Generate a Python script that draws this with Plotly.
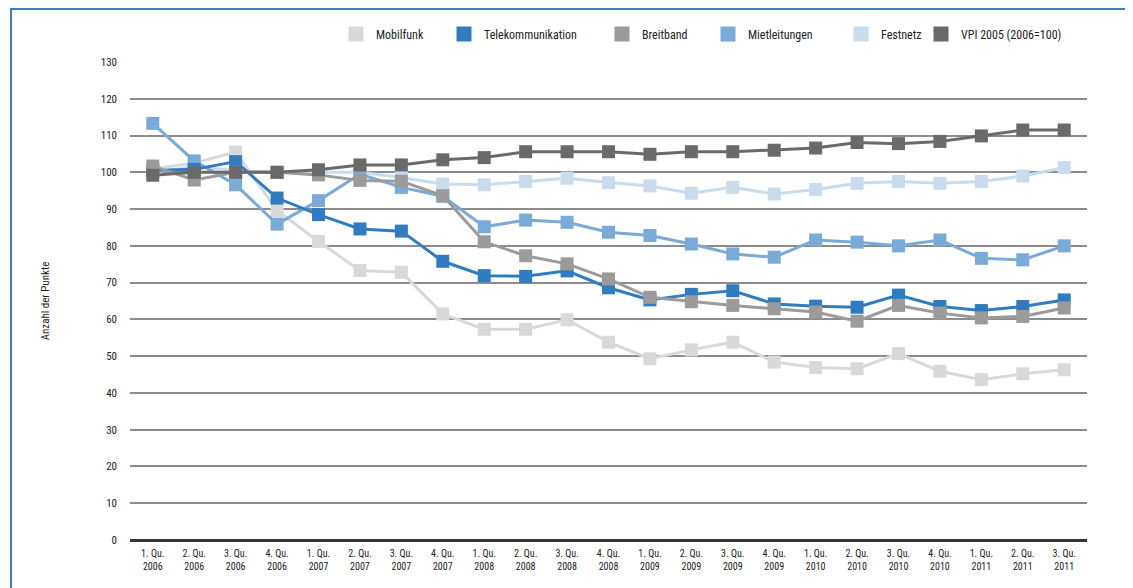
import plotly.graph_objects as go

quarters = ["1. Qu.", "2. Qu.", "3. Qu.", "4. Qu."]
years = ["2006", "2007", "2008", "2009", "2010", "2011"]
categories = [f"{q}<br>{y}" for y in years for q in quarters][:23]

mobilfunk = [101, 102.5, 105.5, 89.6, 81.2, 73.3, 72.8, 61.5, 57.3, 57.3, 59.9, 53.8,
             49.3, 51.7, 53.8, 48.4, 46.9, 46.6, 50.7, 45.9, 43.6, 45.2, 46.3]
telekom = [100.5, 100.8, 102.9, 93, 88.5, 84.6, 84, 75.8, 71.9, 71.7, 73.2, 68.6,
           65.3, 66.8, 67.8, 64.2, 63.6, 63.3, 66.6, 63.5, 62.4, 63.5, 65.3]
breitband = [101.7, 97.9, 100, 100, 99.3, 97.8, 97.6, 93.6, 81.1, 77.3, 75.1, 71,
             66, 64.8, 63.8, 62.9, 62, 59.5, 63.8, 61.7, 60.4, 60.8, 63.1]
mietleitungen = [113.3, 103.1, 96.6, 85.9, 92.3, 99.5, 95.9, 93.5, 85.2, 87, 86.4, 83.7,
                 82.8, 80.5, 77.8, 76.9, 81.6, 81, 80, 81.6, 76.6, 76.2, 80]
festnetz = [100, 101.5, 100.5, 100, 100, 100, 98.6, 96.8, 96.6, 97.5, 98.4, 97.2,
            96.3, 94.3, 95.9, 94.1, 95.3, 97, 97.5, 97, 97.5, 99, 101.3]
vpi = [99.2, 100, 100, 100, 100.7, 102, 102, 103.4, 104, 105.6, 105.6, 105.6,
       104.9, 105.6, 105.6, 106, 106.6, 108.1, 107.8, 108.4, 109.9, 111.5, 111.5]

y_ticks = list(range(0, 131, 10))

series = [
    ("Mobilfunk", mobilfunk, "#d9d9d9"),
    ("Festnetz", festnetz, "#c9dcee"),
    ("Mietleitungen", mietleitungen, "#7aaad8"),
    ("Telekommunikation", telekom, "#2f7dc0"),
    ("Breitband", breitband, "#9b9b9b"),
    ("VPI 2005 (2006=100)", vpi, "#6a6a6a"),
]
legend_order = ["Mobilfunk", "Telekommunikation", "Breitband", "Mietleitungen",
                "Festnetz", "VPI 2005 (2006=100)"]
colors = {n: c for n, _, c in series}

FONT = "Liberation Sans Narrow, Arial Narrow, Roboto Condensed, Roboto, sans-serif"

# page offset (body margin) compensation
OFF = 8
px0, px1, py0, py1 = 130, 1087, 62, 540  # desired plot area in page pixels
def px(x):
    return (x - px0) / (px1 - px0)
def py(y):
    return (py1 - y) / (py1 - py0)

fig = go.Figure()
for name, vals, col in series:
    fig.add_trace(go.Scatter(
        x=categories, y=vals, mode="lines+markers", name=name, showlegend=False,
        line=dict(color=col, width=3),
        marker=dict(symbol="square", size=13, color=col),
        cliponaxis=False,
    ))

legend_centers = [355, 463, 621, 727, 860, 940]
legend_layout = {}
for i, name in enumerate(legend_order):
    key = "legend" if i == 0 else f"legend{i + 1}"
    fig.add_trace(go.Scatter(
        x=[None], y=[None], mode="markers", name=name, legend=key,
        marker=dict(symbol="square", size=15, color=colors[name]),
    ))
    legend_layout[key] = dict(
        orientation="h", x=px(legend_centers[i] - 19), xanchor="left",
        y=py(34), yanchor="middle", itemwidth=30,
        font=dict(family=FONT, size=12, color="#222"),
        bgcolor="rgba(0,0,0,0)",
    )

fig.add_shape(type="path", xref="paper", yref="paper",
              path=f"M {px(11)} {py(600)} L {px(11)} {py(9)} L {px(1145)} {py(9)}",
              line=dict(color="#3a7fc4", width=2))

fig.update_layout(
    width=1133, height=588,
    margin=dict(l=px0 - OFF, r=1133 - (px1 - OFF), t=py0 - OFF, b=588 - (py1 - OFF),
                autoexpand=False),
    paper_bgcolor="white", plot_bgcolor="white",
    font=dict(family=FONT, size=11, color="#222"),
    xaxis=dict(type="category", range=[-0.55, 22.55], showgrid=False,
               showline=False, zeroline=False, ticks="", ticklabelstandoff=6,
               tickfont=dict(family=FONT, size=10, color="#222"), tickangle=0),
    yaxis=dict(range=[0, 130], tickvals=y_ticks, showgrid=True, gridcolor="#8c8c8c",
               gridwidth=1.5, zeroline=True, zerolinecolor="#333", zerolinewidth=2.5,
               showline=False, ticks="", ticklabelstandoff=12,
               tickfont=dict(family=FONT, size=11, color="#222"),
               title=dict(text="Anzahl der Punkte", standoff=48,
                          font=dict(family=FONT, size=11, color="#222"))),
    **legend_layout,
)

fig.write_html("out.html")
